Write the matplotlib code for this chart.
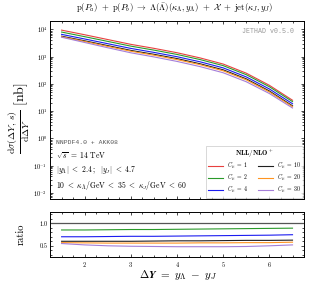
import matplotlib
matplotlib.use('Agg')
import matplotlib.pyplot as plt
import numpy as np

plt.rcParams['font.family'] = 'serif'
plt.rcParams['font.serif'] = ['cmr10']
plt.rcParams['mathtext.fontset'] = 'cm'
plt.rcParams['axes.formatter.use_mathtext'] = True

# rapidity interval
dY = [1.5, 2.0, 2.5, 3.0, 3.5, 4.0, 4.5, 5.0, 5.5, 6.0, 6.5]

# C_mu = 1 cross section [nb]
sigma_c1 = [9300, 6300, 4200, 2800, 2000, 1380, 890, 530, 245, 88, 25]

# ratios to C_mu = 1
ratio_c2 = [0.85, 0.85, 0.855, 0.86, 0.86, 0.865, 0.87, 0.875, 0.88, 0.885, 0.89]
ratio_c4 = [0.70, 0.70, 0.705, 0.71, 0.71, 0.715, 0.72, 0.725, 0.73, 0.735, 0.745]
ratio_c10 = [0.60, 0.60, 0.60, 0.60, 0.605, 0.61, 0.61, 0.615, 0.62, 0.62, 0.625]
ratio_c20 = [0.57, 0.565, 0.56, 0.56, 0.56, 0.56, 0.565, 0.565, 0.57, 0.57, 0.58]
ratio_c30 = [0.55, 0.52, 0.50, 0.49, 0.485, 0.48, 0.48, 0.48, 0.485, 0.50, 0.52]

labels = [r'$C_\mu\ =\ 1$', r'$C_\mu\ =\ 2$', r'$C_\mu\ =\ 4$',
          r'$C_\mu\ =\ 10$', r'$C_\mu\ =\ 20$', r'$C_\mu\ =\ 30$']
colors = ['#e8403f', '#2a9a2a', '#1c1cf0', '#202020', '#ff9420', '#a47ed8']
ratios = [[1.0] * len(dY), ratio_c2, ratio_c4, ratio_c10, ratio_c20, ratio_c30]

fig = plt.figure(figsize=(3.09, 2.81), dpi=100)
ax = fig.add_axes([0.162, 0.292, 0.822, 0.633])
axr = fig.add_axes([0.162, 0.085, 0.822, 0.161])

x = np.array(dY)
base = np.array(sigma_c1)
for lab, col, r in zip(labels, colors, ratios):
    ax.plot(x, base * np.array(r), color=col, lw=0.8, label=lab)
    if lab != labels[0]:
        axr.plot(x, r, color=col, lw=0.8)
axr.axhline(1.0, color='#555555', lw=0.9)

ax.set_yscale('log')
ax.set_xlim(1.25, 6.75)
ax.set_ylim(6e-3, 2e4)
ax.set_yticks([1e-2, 1e-1, 1e0, 1e1, 1e2, 1e3, 1e4])
ax.yaxis.set_minor_locator(matplotlib.ticker.LogLocator(base=10, subs=np.arange(2, 10)))
ax.yaxis.set_minor_formatter(matplotlib.ticker.NullFormatter())
ax.tick_params(axis='x', labelbottom=False)
axr.set_xlim(1.25, 6.75)
axr.set_ylim(0.25, 1.25)
axr.set_yticks([0.5, 1.0])
axr.yaxis.set_major_formatter(matplotlib.ticker.FormatStrFormatter('%.1f'))
axr.set_xticks([2, 3, 4, 5, 6])
axr.xaxis.set_minor_locator(matplotlib.ticker.MultipleLocator(0.25))
axr.yaxis.set_minor_locator(matplotlib.ticker.MultipleLocator(0.1))
ax.xaxis.set_minor_locator(matplotlib.ticker.MultipleLocator(0.25))

for a in (ax, axr):
    a.tick_params(which='both', direction='in', top=True, right=True,
                  labelsize=4.5, width=0.5, pad=2)
    a.tick_params(which='major', length=2.5)
    a.tick_params(which='minor', length=1.3)
    for s in a.spines.values():
        s.set_linewidth(0.7)

fig.text(0.565, 0.97,
         r'$\mathrm{p}(P_a)\ +\ \mathrm{p}(P_b)\ \to\ \Lambda(\bar{\Lambda})(\kappa_\Lambda, y_\Lambda)'
         r'\ +\ \mathcal{X}\ +\ \mathrm{jet}(\kappa_J, y_J)$',
         ha='center', va='center', fontsize=6.3)

ax.text(0.96, 0.94, 'JETHAD v0.5.0', transform=ax.transAxes, ha='right',
        va='center', fontsize=4.8, color='#999999', family='Liberation Mono')
ax.text(0.025, 0.32, 'NNPDF4.0 + AKK08', transform=ax.transAxes, ha='left',
        va='center', fontsize=4.6, color='#555555', family='Liberation Mono')
ax.text(0.025, 0.245, r'$\sqrt{s}\ =\ 14\ \mathrm{TeV}$', transform=ax.transAxes,
        ha='left', va='center', fontsize=5.5)
ax.text(0.025, 0.16, r'$|y_\Lambda|\ <\ 2.4\,;\ \ |y_J|\ <\ 4.7$',
        transform=ax.transAxes, ha='left', va='center', fontsize=5.5)
ax.text(0.025, 0.075,
        r'$10\ <\ \kappa_\Lambda/\mathrm{GeV}\ <\ 35\ <\ \kappa_J/\mathrm{GeV}\ <\ 60$',
        transform=ax.transAxes, ha='left', va='center', fontsize=5.5)

leg = ax.legend(loc='lower right', ncol=2, fontsize=4.2,
                title=r'$\mathbf{NLL/NLO^+}$',
                title_fontsize=5, frameon=True, fancybox=False,
                edgecolor='#bbbbbb', handlelength=2.6, columnspacing=1.6,
                borderaxespad=0.15, labelspacing=0.12, borderpad=0.35,
                handletextpad=0.6)
leg.get_frame().set_linewidth(0.5)

fig.text(0.062, 0.58,
         r'$\frac{\mathrm{d}\sigma(\Delta Y,\, s)}{\mathrm{d}\Delta Y}\ [\mathrm{nb}]$',
         rotation=90, ha='center', va='center', fontsize=10)
fig.text(0.068, 0.165, 'ratio', rotation=90, ha='center', va='center',
         fontsize=7.5, fontweight='bold')
fig.text(0.575, 0.022, r'$\mathbf{\Delta} \boldsymbol{Y\ =\ y_\Lambda\ -\ y_J}$',
         ha='center', va='center', fontsize=8)

fig.savefig('out.png', dpi=100)
